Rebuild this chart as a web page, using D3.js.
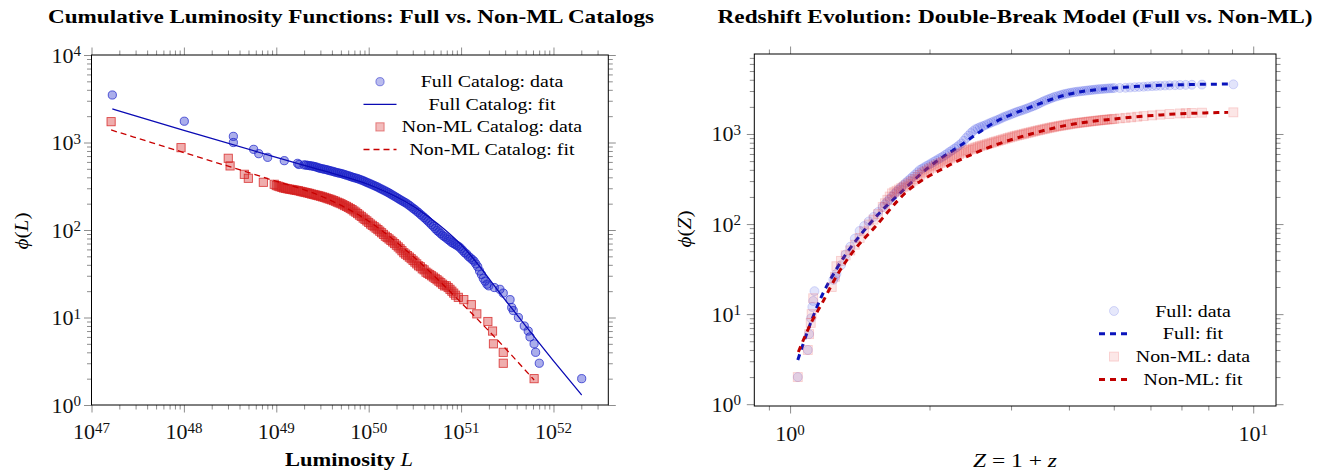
<!DOCTYPE html>
<html><head><meta charset="utf-8">
<script src="https://cdn.jsdelivr.net/npm/d3@7"></script>
<style>
html,body{margin:0;padding:0;background:#fff;}
svg{display:block;font-family:"Liberation Serif","Times New Roman",serif;}
</style></head>
<body><svg id="c" width="1325" height="470"></svg>
<script>
// ---------------- DATA ----------------
// Left panel: cumulative luminosity function, Full catalog (L in erg/s, phi = N(>L))
const fullL = [1.68e47,1.01e48,3.43e48,3.43e48,5.69e48,6.46e48,8.07e48,1.22e49,1.70e49,1.76e49,
 1.995e49,2.089e49,2.188e49,2.291e49,2.399e49,2.512e49,2.630e49,2.754e49,2.884e49,3.020e49,3.162e49,3.311e49,3.467e49,3.631e49,3.802e49,3.981e49,4.169e49,4.365e49,4.571e49,4.786e49,5.012e49,5.248e49,5.495e49,5.754e49,6.026e49,6.310e49,6.607e49,6.918e49,7.244e49,7.586e49,7.943e49,8.318e49,8.710e49,9.120e49,9.550e49,
 1.000e50,1.047e50,1.096e50,1.148e50,1.202e50,1.259e50,1.318e50,1.380e50,1.445e50,1.514e50,1.585e50,1.660e50,1.738e50,1.820e50,1.905e50,1.995e50,2.089e50,2.188e50,2.291e50,2.399e50,2.512e50,2.630e50,2.754e50,2.884e50,3.020e50,3.162e50,3.311e50,3.467e50,3.631e50,3.802e50,3.981e50,4.169e50,4.365e50,4.571e50,4.786e50,5.012e50,5.248e50,5.495e50,5.754e50,6.026e50,6.310e50,6.607e50,6.918e50,7.244e50,7.586e50,7.943e50,8.318e50,8.710e50,9.120e50,9.550e50,
 1.000e51,1.047e51,1.096e51,1.148e51,1.202e51,1.259e51,1.318e51,1.380e51,1.445e51,1.514e51,1.585e51,1.660e51,1.738e51,1.820e51,1.905e51,1.995e51,2.29e51,2.63e51,
 2.86e51,3.39e51,3.53e51,3.67e51,4.17e51,4.83e51,5.33e51,5.57e51,6.17e51,6.41e51,7.02e51,2.02e52];
const fullPhi = [3490,1750,1175,1000,835,745,677,620,578,560,
 555,552,548,544,540,535,530,521,512,506,500,495,490,483,477,471,465,458,452,447,443,436,430,423,417,410,403,397,392,386,380,373,366,358,350,
 343,336,329,322,315,308,300,293,286,279,272,265,257,250,243,236,229,222,216,210,204,198,191,184,177,171,164,158,151,145,139,133,127,121,115,110,104,99,95,91,87,84,81,78,75,72,70,68,66,64,
 61,58,55,53,50,48,46,44,41,38,34,31,28,26,24,23,22,21,
 19,16,13,12,10,8,7,6,5,4,3,2];
// Non-ML catalog
const nonmlL = [1.63e47,9.31e47,3.02e48,3.16e48,4.51e48,4.98e48,7.24e48,9.50e48,
 1.000e49,1.047e49,1.096e49,1.148e49,1.202e49,1.259e49,1.318e49,1.380e49,1.445e49,1.514e49,1.585e49,1.660e49,1.738e49,1.820e49,1.905e49,1.995e49,2.089e49,2.188e49,2.291e49,2.399e49,2.512e49,2.630e49,2.754e49,2.884e49,3.020e49,3.162e49,3.311e49,3.467e49,3.631e49,3.802e49,3.981e49,4.169e49,4.365e49,4.571e49,4.786e49,5.012e49,5.248e49,5.495e49,5.754e49,6.026e49,6.310e49,6.607e49,6.918e49,7.244e49,7.586e49,7.943e49,8.318e49,8.710e49,9.120e49,9.550e49,
 1.000e50,1.047e50,1.096e50,1.148e50,1.202e50,1.259e50,1.318e50,1.380e50,1.445e50,1.514e50,1.585e50,1.660e50,1.738e50,1.820e50,1.905e50,1.995e50,2.089e50,2.188e50,2.291e50,2.399e50,2.512e50,2.630e50,2.754e50,2.884e50,3.020e50,3.162e50,3.311e50,3.467e50,3.631e50,3.802e50,3.981e50,4.169e50,4.365e50,4.571e50,4.786e50,5.012e50,5.248e50,5.495e50,5.754e50,6.026e50,6.310e50,6.607e50,6.918e50,7.244e50,7.586e50,7.943e50,8.318e50,8.710e50,9.33e50,
 1.07e51,1.29e51,1.48e51,1.95e51,2.19e51,2.24e51,2.86e51,2.86e51,6.17e51];
const nonmlPhi = [1730,873,660,540,433,390,351,333,
 322,317,312,307,302,299,296,293,291,288,286,283,281,277,274,271,268,265,262,258,255,252,249,246,243,239,236,232,228,225,221,217,213,208,204,200,195,190,186,181,176,171,165,160,154,148,143,137,132,127,
 122,117,113,109,105,101,97,93,89,85,82,79,76,73,70,67,64,61,58,55,53,51,49,47,45,43,41,39,38,36,35,33,32,31,30,29,28,27,26,25,24,23,23,22,21,20,19,18,17,
 16,14,11,9,7,5,4,3,2];
const fullFitL   = [1.68e47,1e48,1e49,3.16e49,1e50,3.16e50,5.62e50,1e51,3.16e51,1e52,2.02e52];
const fullFitPhi = [2415,1380,676,479,331,182,117,68,14.8,3.2,1.3];
const nonmlFitL   = [1.63e47,1e48,7.9e48,3.16e49,1e50,3.16e50,1e51,3.16e51,6.17e51];
const nonmlFitPhi = [1390,767,389,240,126,48,14.8,4.2,1.93];

// Right panel: redshift evolution, Z = 1 + z
const fullZ = [1.039,1.092,1.099,1.110,1.117,1.122,1.129,1.24,1.25,
 1.259,1.288,1.318,1.349,1.380,1.413,1.445,1.479,1.514,1.549,1.585,1.622,1.660,1.698,1.738,1.778,1.820,1.862,1.905,1.950,1.995,2.042,2.089,2.138,2.188,2.239,2.291,2.344,2.399,2.455,2.512,2.570,2.630,2.692,2.754,2.818,2.884,2.951,3.020,3.090,3.162,3.236,3.311,3.388,3.467,3.548,3.631,3.715,3.802,3.890,3.981,4.074,4.169,4.266,4.365,4.467,4.571,4.677,4.786,4.898,5.012,
 5.15,5.30,5.42,5.55,5.67,5.80,5.92,6.05,6.17,6.30,6.45,6.60,6.78,6.95,7.15,7.37,7.75,9.06,
 1.603,1.641,1.679,1.718,1.758,1.799,1.841,1.884,1.928,1.972,2.018,2.065,2.113,2.163,2.213,2.265,2.317,2.371,2.427,2.483,2.541,2.600,2.661,2.723,2.786,2.851,2.917,2.985,3.055,3.126,3.199,3.273,3.350,3.428,3.508,3.589,3.673,3.758,3.846,3.936,4.027,4.121,4.217,4.315,4.416,4.519,4.624,4.732,4.842,4.955];
const fullZPhi = [2,4,6,9,12,14,18,24,26,
 28,35,46,56,69,84,95,107,120,136,155,178,202,229,257,288,320,355,398,427,457,490,525,562,610,661,716,785,902,1023,1130,1189,1245,1312,1380,1445,1531,1603,1679,1758,1828,1905,1995,2089,2213,2344,2455,2570,2661,2754,2831,2897,2951,2992,3034,3076,3119,3155,3184,3214,3236,
 3245,3260,3285,3310,3330,3350,3375,3400,3420,3436,3455,3470,3485,3500,3510,3520,3535,3560,
 166,190,215,243,272,304,337,376,412,442,473,507,543,585,635,688,750,841,960,1075,1159,1217,1278,1345,1412,1487,1567,1640,1718,1793,1866,1949,2041,2150,2277,2399,2512,2615,2707,2792,2864,2924,2971,3013,3055,3097,3137,3169,3199,3225];
const nonmlZ = [1.039,1.092,1.099,1.108,1.113,1.122,1.23,1.25,
 1.259,1.288,1.318,1.349,1.380,1.413,1.445,1.479,1.514,1.549,1.585,1.622,1.660,1.698,1.738,1.778,1.820,1.862,1.905,1.950,1.995,2.042,2.089,2.138,2.188,2.239,2.291,2.344,2.399,2.455,2.512,2.570,2.630,2.692,2.754,2.818,2.884,2.951,3.020,3.090,3.162,3.236,3.311,3.388,3.467,3.548,3.631,3.715,3.802,3.890,3.981,4.074,4.169,4.266,4.365,4.467,4.571,4.677,4.786,4.898,5.012,
 5.15,5.30,5.45,5.62,5.80,6.05,6.30,6.60,6.95,7.15,7.37,7.75,9.06,
 1.603,1.641,1.679,1.718,1.758,1.799,1.841,1.884,1.928,1.972,2.018,2.065,2.113,2.163,2.213,2.265,2.317,2.371,2.427,2.483,2.541,2.600,2.661,2.723,2.786,2.851,2.917,2.985,3.055,3.126,3.199,3.273,3.350,3.428,3.508,3.589,3.673,3.758,3.846,3.936,4.027,4.121,4.217,4.315,4.416,4.519,4.624,4.732,4.842,4.955];
const nonmlZPhi = [2,4,6,8,10,15,20,26,
 34,39,45,51,59,70,83,99,112,129,155,186,219,234,251,269,292,316,351,380,407,437,462,490,519,550,582,617,653,676,708,733,759,785,813,841,871,902,933,962,989,1019,1047,1079,1109,1140,1169,1197,1225,1250,1274,1300,1322,1342,1362,1382,1401,1420,1438,1455,1472,
 1490,1510,1530,1555,1580,1610,1640,1665,1690,1700,1710,1725,1740,
 170,202,226,242,260,280,304,333,365,393,422,449,476,504,534,566,599,635,664,692,720,746,772,799,827,856,886,917,947,975,1004,1033,1063,1094,1124,1154,1183,1211,1237,1262,1287,1311,1332,1352,1372,1391,1410,1429,1446,1463];
const fullZFit    = [1.039,1.096,1.161,1.259,1.489,1.758,2.004,2.328,2.754,3.311,3.981,5.012,6.31,8.93];
const fullZFitPhi = [3.09,6.9,14.5,31.6,102,240,437,741,1330,1995,2754,3236,3467,3590];
const nonmlZFit    = [1.042,1.109,1.175,1.259,1.380,1.514,1.786,2.178,2.748,3.311,3.981,5.012,6.31,8.83];
const nonmlZFitPhi = [3.8,7.9,13.5,26.3,52.5,89,229,434,741,1000,1259,1470,1630,1738];

// Tick labels
const leftXTicks = [1e47,1e48,1e49,1e50,1e51,1e52];
const leftXTickExp = ["47","48","49","50","51","52"];
const leftYTicks = [1,10,100,1000,10000];
const leftYTickExp = ["0","1","2","3","4"];
const rightXTicks = [1,10];
const rightXTickExp = ["0","1"];
const rightYTicks = [1,10,100,1000];
const rightYTickExp = ["0","1","2","3"];

const leftLegend = ["Full Catalog: data","Full Catalog: fit","Non-ML Catalog: data","Non-ML Catalog: fit"];
const rightLegend = ["Full: data","Full: fit","Non-ML: data","Non-ML: fit"];

// ---------------- DRAW ----------------
const svg = d3.select("#c");
const TICK = "#808080";
const BLUE = "#1a22c8", RED = "#d42020";
const BLUEL = "#0a0ab4", REDL = "#c80000";
const RBLUE = "#3040e0", RRED = "#e83a3a";

function widen(sel, factor){
  const n = sel.node(); const w = n.getComputedTextLength();
  sel.attr("textLength", w*factor).attr("lengthAdjust","spacingAndGlyphs");
}
function fixWidth(sel, target){
  sel.attr("textLength", target).attr("lengthAdjust","spacingAndGlyphs");
}

function minorTicks(scale, majors){
  const s = new Set(majors.map(v=>+v.toPrecision(6)));
  return scale.ticks().filter(v => !s.has(+v.toPrecision(6)));
}

function panel(cfg){
  const {x, y, box} = cfg;
  const g = svg.append("g");
  const xMin = minorTicks(x, cfg.xTicks), yMin = minorTicks(y, cfg.yTicks);
  const styleAxis = sel => { sel.select(".domain").remove(); sel.selectAll("line").attr("stroke", TICK).attr("stroke-width",0.9); sel.selectAll("text").remove(); };
  const axes = [
    [d3.axisBottom, x, `translate(0,${box.b})`],
    [d3.axisTop, x, `translate(0,${box.t})`],
    [d3.axisLeft, y, `translate(${box.l},0)`],
    [d3.axisRight, y, `translate(${box.r},0)`]
  ];
  axes.forEach(([fn, sc, tr], i) => {
    const maj = i < 2 ? cfg.xTicks : cfg.yTicks;
    const mn = i < 2 ? xMin : yMin;
    g.append("g").attr("transform", tr).call(fn(sc).tickValues(mn).tickSize(4.5)).call(styleAxis);
    g.append("g").attr("transform", tr).call(fn(sc).tickValues(maj).tickSize(7.5)).call(styleAxis);
  });
  const cid = "clip" + cfg.id;
  svg.append("clipPath").attr("id", cid).append("rect")
    .attr("x", box.l).attr("y", box.t).attr("width", box.r-box.l).attr("height", box.b-box.t);
  const plot = svg.append("g").attr("clip-path", `url(#${cid})`);
  cfg.xTicks.forEach((v,i) => {
    const t = g.append("text").attr("x", x(v)).attr("y", cfg.xLabY).attr("text-anchor","middle").attr("font-size",22).attr("fill","#111");
    t.append("tspan").text("10");
    t.append("tspan").attr("dy","-0.42em").attr("font-size",15).text(cfg.xExp[i]);
  });
  cfg.yTicks.forEach((v,i) => {
    const t = g.append("text").attr("x", cfg.yLabX).attr("y", y(v)+7.5).attr("text-anchor","end").attr("font-size",22).attr("fill","#111");
    t.append("tspan").text("10");
    t.append("tspan").attr("dy","-0.42em").attr("font-size",15).text(cfg.yExp[i]);
  });
  g.append("rect").attr("x", box.l).attr("y", box.t).attr("width", box.r-box.l).attr("height", box.b-box.t)
    .attr("fill","none").attr("stroke","#000").attr("stroke-width",1);
  return {g, plot};
}

function circles(sel, xs, ys, x, y, r, fill, fo, so){
  sel.append("g").selectAll("circle").data(xs.map((v,i)=>[v, ys[i]])).join("circle")
    .attr("cx", d=>x(d[0])).attr("cy", d=>y(d[1])).attr("r", r)
    .attr("fill", fill).attr("fill-opacity", fo).attr("stroke", fill).attr("stroke-opacity", so).attr("stroke-width", 0.9);
}
function squares(sel, xs, ys, x, y, s, fill, fo, so){
  sel.append("g").selectAll("rect").data(xs.map((v,i)=>[v, ys[i]])).join("rect")
    .attr("x", d=>x(d[0])-s/2).attr("y", d=>y(d[1])-s/2).attr("width", s).attr("height", s)
    .attr("fill", fill).attr("fill-opacity", fo).attr("stroke", fill).attr("stroke-opacity", so).attr("stroke-width", 0.9);
}
function fitLine(sel, xs, ys, x, y, color, w, dash){
  const line = d3.line().x(d=>x(d[0])).y(d=>y(d[1])).curve(d3.curveMonotoneX);
  sel.append("path").datum(xs.map((v,i)=>[v, ys[i]])).attr("d", line)
    .attr("fill","none").attr("stroke", color).attr("stroke-width", w).attr("stroke-dasharray", dash || null);
}

// ----- Left panel -----
const boxL = {l:91.5, r:608.3, t:55, b:405};
const xL = d3.scaleLog().domain([1e47, 3.92e52]).range([boxL.l, boxL.r]);
const yL = d3.scaleLog().domain([1, 1e4]).range([boxL.b, boxL.t]);
const pL = panel({id:"L", x:xL, y:yL, box:boxL, xTicks:leftXTicks, xExp:leftXTickExp, yTicks:leftYTicks, yExp:leftYTickExp, xLabY:439, yLabX:81});
circles(pL.plot, fullL, fullPhi, xL, yL, 4.1, BLUE, 0.37, 0.8);
fitLine(pL.plot, fullFitL, fullFitPhi, xL, yL, BLUEL, 1.3);
squares(pL.plot, nonmlL, nonmlPhi, xL, yL, 8.2, RED, 0.37, 0.8);
fitLine(pL.plot, nonmlFitL, nonmlFitPhi, xL, yL, REDL, 1.3, "6,4");

// ----- Right panel -----
const boxR = {l:754.3, r:1276, t:54, b:406};
const xR = d3.scaleLog().domain([0.837, 11.2]).range([boxR.l, boxR.r]);
const yR = d3.scaleLog().domain([0.955, 7730]).range([boxR.b, boxR.t]);
const pR = panel({id:"R", x:xR, y:yR, box:boxR, xTicks:rightXTicks, xExp:rightXTickExp, yTicks:rightYTicks, yExp:rightYTickExp, xLabY:441, yLabX:741});
circles(pR.plot, fullZ, fullZPhi, xR, yR, 4.5, RBLUE, 0.14, 0.2);
fitLine(pR.plot, fullZFit, fullZFitPhi, xR, yR, "#0a14bc", 3, "6,5");
squares(pR.plot, nonmlZ, nonmlZPhi, xR, yR, 9, RRED, 0.13, 0.2);
fitLine(pR.plot, nonmlZFit, nonmlZFitPhi, xR, yR, "#c00000", 3, "6,5");

// ----- Titles & axis labels -----
fixWidth(svg.append("text").attr("x", 351).attr("y", 23).attr("text-anchor","middle").attr("font-size",19).attr("font-weight","bold")
  .text("Cumulative Luminosity Functions: Full vs. Non-ML Catalogs"), 606);
fixWidth(svg.append("text").attr("x", 1015).attr("y", 23).attr("text-anchor","middle").attr("font-size",19).attr("font-weight","bold")
  .text("Redshift Evolution: Double-Break Model (Full vs. Non-ML)"), 595);

const xl = svg.append("text").attr("x", 349).attr("y", 466).attr("text-anchor","middle").attr("font-size",19).attr("font-weight","bold");
xl.append("tspan").text("Luminosity ");
xl.append("tspan").attr("font-style","italic").attr("font-weight","normal").text("L");
fixWidth(xl, 128);

const xr = svg.append("text").attr("x", 1015).attr("y", 467).attr("text-anchor","middle").attr("font-size",19);
xr.append("tspan").attr("font-style","italic").text("Z");
xr.append("tspan").text(" = 1 + ");
xr.append("tspan").attr("font-style","italic").text("z");
fixWidth(xr, 84);

function ylab(cx, cy, v){
  const t = svg.append("text").attr("transform", `translate(${cx},${cy}) rotate(-90)`).attr("text-anchor","middle").attr("font-size",19);
  t.append("tspan").attr("font-style","italic").text("ϕ");
  t.append("tspan").text("(");
  t.append("tspan").attr("font-style","italic").text(v);
  t.append("tspan").text(")");
  fixWidth(t, 37);
}
ylab(28, 231, "L");
ylab(691, 229, "Z");

// ----- Legends -----
function legend(cfg){
  const g = svg.append("g");
  cfg.labels.forEach((lab, i) => {
    const yy = cfg.y0 + i*cfg.dy;
    const k = cfg.kinds[i];
    if (k.type === "circle") g.append("circle").attr("cx", cfg.mx).attr("cy", yy).attr("r", k.r).attr("fill", k.c).attr("fill-opacity", k.fo).attr("stroke", k.c).attr("stroke-opacity", k.so);
    else if (k.type === "square") g.append("rect").attr("x", cfg.mx-k.s/2).attr("y", yy-k.s/2).attr("width", k.s).attr("height", k.s).attr("fill", k.c).attr("fill-opacity", k.fo).attr("stroke", k.c).attr("stroke-opacity", k.so);
    else g.append("line").attr("x1", cfg.mx-cfg.lw/2).attr("x2", cfg.mx+cfg.lw/2).attr("y1", yy).attr("y2", yy).attr("stroke", k.c).attr("stroke-width", k.w).attr("stroke-dasharray", k.dash||null);
    const t = g.append("text").attr("x", cfg.tx).attr("y", yy+5.5).attr("text-anchor","middle").attr("font-size",cfg.fs).text(lab);
    widen(t, 1.17);
  });
}
legend({labels:leftLegend, y0:81.7, dy:22.6, mx:380, lw:33, tx:492, fs:17,
  kinds:[{type:"circle", r:4.1, c:BLUE, fo:0.3, so:0.5},{type:"line", c:BLUEL, w:1.3},{type:"square", s:8.2, c:RED, fo:0.3, so:0.5},{type:"line", c:REDL, w:1.3, dash:"6,4"}]});
legend({labels:rightLegend, y0:311, dy:22.8, mx:1114, lw:30, tx:1193, fs:17,
  kinds:[{type:"circle", r:4.5, c:RBLUE, fo:0.12, so:0.18},{type:"line", c:"#0a14bc", w:3, dash:"6,5"},{type:"square", s:9, c:RRED, fo:0.12, so:0.18},{type:"line", c:"#c00000", w:3, dash:"6,5"}]});
</script></body></html>
